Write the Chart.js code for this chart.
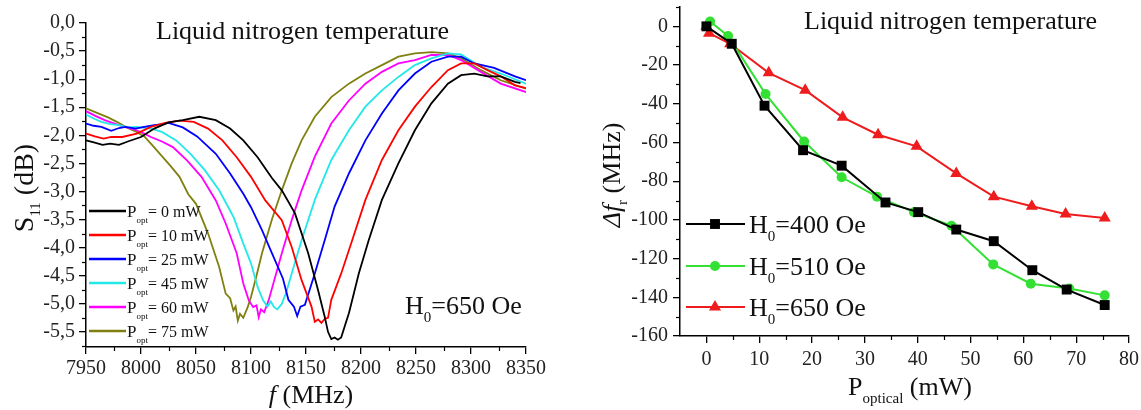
<!DOCTYPE html>
<html>
<head>
<meta charset="utf-8">
<script src="https://cdn.jsdelivr.net/npm/chart.js@4.4.0/dist/chart.umd.min.js"></script>
<style>
  html, body { margin: 0; padding: 0; background: #fff; }
  #wrap { position: relative; width: 1141px; height: 410px; }
  .box { position: absolute; top: 0; height: 410px; }
  #b1 { left: 0; width: 560px; }
  #b2 { left: 580px; width: 561px; }
</style>
</head>
<body>
<div id="wrap">
  <div class="box" id="b1"><canvas id="c1"></canvas></div>
  <div class="box" id="b2"><canvas id="c2"></canvas></div>
</div>
<script>
// ---- left panel : S11 vs frequency, one curve per optical power ----
const freqTicks = [7950, 8000, 8050, 8100, 8150, 8200, 8250, 8300, 8350];
const s11Ticks = [-5.5, -5, -4.5, -4, -3.5, -3, -2.5, -2, -1.5, -1, -0.5, 0];
const powerLabels = ['0', '10', '25', '45', '60', '75'];

const f0 = [7950,7958,7965,7972,7980,7988,8000,8012,8025,8038,8053,8068,8081,8093,8106,8119,8128,8140,8152,8161,8167,8170,8173,8176,8179,8182,8186,8189,8198,8207,8219,8234,8249,8264,8279,8291,8303,8315,8327,8340,8345];
const s0 = [-2.09,-2.13,-2.17,-2.15,-2.17,-2.11,-2.03,-1.88,-1.77,-1.73,-1.67,-1.73,-1.88,-2.09,-2.39,-2.76,-2.98,-3.39,-4.10,-4.76,-5.23,-5.50,-5.63,-5.60,-5.64,-5.60,-5.35,-5.17,-4.46,-3.87,-3.15,-2.50,-1.91,-1.43,-1.08,-0.93,-0.90,-0.95,-0.95,-1.05,-1.07];

const f10 = [7950,7958,7966,7973,7983,7996,8009,8022,8035,8048,8061,8074,8087,8100,8113,8128,8137,8146,8155,8158,8161,8164,8167,8170,8173,8182,8192,8204,8219,8234,8249,8264,8279,8291,8303,8315,8327,8340,8350];
const s10 = [-1.97,-2.02,-2.06,-2.03,-2.03,-1.97,-1.85,-1.78,-1.74,-1.76,-1.88,-2.09,-2.39,-2.74,-3.16,-3.51,-3.99,-4.58,-5.05,-5.32,-5.28,-5.34,-5.27,-5.25,-4.93,-4.46,-3.87,-3.15,-2.44,-1.91,-1.49,-1.14,-0.84,-0.72,-0.72,-0.84,-0.95,-1.11,-1.16];

const f25 = [7950,7957,7964,7973,7980,7986,7995,8003,8012,8020,8025,8038,8051,8068,8081,8093,8100,8110,8119,8129,8134,8139,8142,8145,8149,8158,8167,8176,8189,8204,8219,8234,8249,8264,8279,8291,8303,8321,8340,8350];
const s25 = [-1.79,-1.83,-1.85,-1.92,-1.87,-1.85,-1.88,-1.85,-1.82,-1.80,-1.78,-1.86,-2.02,-2.33,-2.68,-3.04,-3.28,-3.69,-4.10,-4.55,-4.93,-5.05,-5.22,-5.05,-5.02,-4.46,-3.87,-3.27,-2.68,-2.09,-1.61,-1.20,-0.90,-0.69,-0.60,-0.60,-0.72,-0.80,-0.95,-1.02];

const f45 = [7950,7957,7964,7972,7980,7988,7996,8009,8019,8032,8045,8058,8071,8084,8093,8100,8106,8111,8115,8118,8121,8124,8128,8132,8137,8146,8158,8173,8189,8204,8219,8234,8249,8264,8279,8291,8309,8327,8350];
const s45 = [-1.63,-1.70,-1.76,-1.80,-1.82,-1.86,-1.85,-1.88,-1.94,-2.09,-2.33,-2.62,-2.98,-3.45,-3.93,-4.28,-4.70,-4.94,-5.05,-4.96,-5.06,-5.10,-5.00,-4.80,-4.46,-3.87,-3.15,-2.44,-1.91,-1.49,-1.20,-0.96,-0.75,-0.63,-0.54,-0.56,-0.78,-0.90,-1.08];

const f60 = [7950,7958,7967,7974,7980,7988,7996,8003,8009,8019,8029,8042,8055,8068,8077,8087,8093,8098,8102,8105,8107,8109,8112,8116,8128,8137,8146,8158,8173,8189,8204,8219,8234,8249,8264,8279,8291,8309,8327,8350];
const s60 = [-1.57,-1.65,-1.73,-1.78,-1.82,-1.87,-1.91,-1.97,-2.03,-2.11,-2.21,-2.45,-2.74,-3.16,-3.57,-4.10,-4.64,-4.94,-5.06,-5.03,-5.24,-5.10,-5.15,-4.94,-4.10,-3.51,-2.98,-2.38,-1.79,-1.38,-1.08,-0.87,-0.72,-0.66,-0.57,-0.57,-0.66,-0.87,-1.08,-1.23];

const f75 = [7950,7960,7970,7978,7986,7995,8003,8010,8019,8027,8035,8043,8050,8061,8071,8077,8081,8084,8086,8088,8090,8093,8097,8100,8105,8110,8119,8128,8137,8146,8158,8173,8189,8204,8219,8234,8249,8264,8279,8291,8309,8327,8350];
const s75 = [-1.52,-1.60,-1.68,-1.76,-1.85,-1.93,-2.02,-2.17,-2.37,-2.55,-2.74,-3.05,-3.22,-3.75,-4.34,-4.82,-4.90,-5.12,-5.05,-5.30,-5.18,-5.25,-5.06,-4.88,-4.50,-4.10,-3.50,-2.98,-2.50,-2.09,-1.67,-1.32,-1.08,-0.90,-0.75,-0.60,-0.54,-0.52,-0.54,-0.63,-0.84,-1.02,-1.17];

const curveColors = ['#000000', '#ff0000', '#0000ff', '#22e8e8', '#ff00ff', '#808010'];

// ---- right panel : resonance shift vs optical power ----
const powerTicks = [0, 10, 20, 30, 40, 50, 60, 70, 80];
const shiftTicks = [-160, -140, -120, -100, -80, -60, -40, -20, 0];
const fieldLabels = ['400', '510', '650'];

const p400 = [0, 4.8, 11, 18.3, 25.6, 33.9, 40.1, 47.3, 54.4, 61.7, 68.2, 75.4];
const d400 = [0, -9, -41, -64, -72, -91, -96, -105, -111, -126, -136, -144];
const p510 = [0.7, 4.1, 11.2, 18.5, 25.6, 32.3, 39.3, 46.4, 54.3, 61.4, 68.7, 75.4];
const d510 = [2.5, -5, -35, -59.5, -78, -88, -96, -103, -123, -133, -135.5, -139];
const p650 = [0, 0.5, 4.5, 11.8, 18.7, 25.8, 32.5, 39.8, 47.3, 54.4, 61.6, 68, 75.4];
const d650 = [0, -3.5, -9, -24, -33, -47, -56, -62, -76, -88, -93, -97, -99];

const FONT = '"Liberation Serif", "Times New Roman", serif';

function pts(xs, ys) {
  return xs.map((x, i) => ({ x: x, y: ys[i] }));
}

// draws a run of text pieces: [text, size, dy, style]
function rich(ctx, x, y, parts, align) {
  let w = 0;
  parts.forEach(p => {
    ctx.font = (p[3] || '') + ' ' + p[1] + 'px ' + FONT;
    w += ctx.measureText(p[0]).width;
  });
  let cx = align === 'center' ? x - w / 2 : x;
  ctx.textBaseline = 'alphabetic';
  ctx.textAlign = 'left';
  parts.forEach(p => {
    ctx.font = (p[3] || '') + ' ' + p[1] + 'px ' + FONT;
    ctx.fillText(p[0], cx, y + (p[2] || 0));
    cx += ctx.measureText(p[0]).width;
  });
}

function range(a, b, step) {
  const out = [];
  for (let v = a; v <= b + 1e-9; v += step) out.push(Math.round(v * 1000) / 1000);
  return out;
}

const minorTicks = {
  id: 'minorTicks',
  afterDraw(chart, args, opts) {
    const ctx = chart.ctx;
    const xs = chart.scales.x, ys = chart.scales.y;
    ctx.save();
    ctx.strokeStyle = '#000';
    ctx.lineWidth = 1.2;
    opts.x.forEach(v => {
      const px = Math.round(xs.getPixelForValue(v)) + 0.5;
      ctx.beginPath(); ctx.moveTo(px, xs.top); ctx.lineTo(px, xs.top + 4); ctx.stroke();
    });
    opts.y.forEach(v => {
      const py = Math.round(ys.getPixelForValue(v)) + 0.5;
      ctx.beginPath(); ctx.moveTo(ys.right, py); ctx.lineTo(ys.right - 4, py); ctx.stroke();
    });
    ctx.restore();
  }
};

// fixed axis box sizes, label overflow is handled by the layout padding
function axis(min, max, ticks, size, pad, cb) {
  return {
    type: 'linear', min: min, max: max,
    afterBuildTicks: s => { s.ticks = ticks.map(v => ({ value: v })); },
    afterFit: s => {
      if (s.isHorizontal()) s.height = size; else s.width = size;
      s.paddingTop = 0; s.paddingBottom = 0; s.paddingLeft = 0; s.paddingRight = 0;
    },
    grid: { drawOnChartArea: false, drawTicks: true, tickLength: 7, color: '#000', lineWidth: 1.3 },
    border: { display: true, color: '#000', width: 1.5 },
    ticks: { color: '#222', padding: pad, maxRotation: 0, autoSkip: false,
             font: { family: FONT, size: 20 }, callback: cb }
  };
}

Chart.defaults.font.family = FONT;

// ---------------- LEFT CHART ----------------
const leftText = {
  id: 'leftText',
  afterDraw(chart) {
    const ctx = chart.ctx;
    ctx.save();
    ctx.fillStyle = '#111';
    rich(ctx, 156, 39, [['Liquid nitrogen temperature', 26]]);
    rich(ctx, 405, 314, [['H', 26], ['0', 15, 8], ['=650 Oe', 26]]);
    // legend
    const rows = [211, 235, 259, 283, 307, 331];
    rows.forEach((ry, i) => {
      ctx.strokeStyle = curveColors[i];
      ctx.lineWidth = 2.5;
      ctx.beginPath(); ctx.moveTo(89, ry); ctx.lineTo(126, ry); ctx.stroke();
      ctx.fillStyle = '#111';
      rich(ctx, 127, ry + 6, [['P', 17], ['opt', 9, 6], ['= ' + powerLabels[i] + ' mW', 16]]);
    });
    // axis titles
    rich(ctx, 311, 403, [['f', 26, 0, 'italic'], [' (MHz)', 26]], 'center');
    ctx.translate(33, 188);
    ctx.rotate(-Math.PI / 2);
    rich(ctx, 0, 0, [['S', 28], ['11', 15, 7], [' (dB)', 28]], 'center');
    ctx.restore();
  }
};

new Chart(document.getElementById('c1'), {
  type: 'scatter',
  data: {
    datasets: [[f0, s0], [f10, s10], [f25, s25], [f45, s45], [f60, s60], [f75, s75]].map((c, i) => ({
      label: 'Popt = ' + powerLabels[i] + ' mW',
      data: pts(c[0], c[1]),
      showLine: true,
      borderColor: curveColors[i],
      borderWidth: 1.8,
      pointRadius: 0,
      tension: 0
    }))
  },
  options: {
    responsive: true, maintainAspectRatio: false, animation: false,
    layout: { padding: { left: 0, right: 34, top: 23, bottom: 0 } },
    plugins: {
      legend: { display: false }, tooltip: { enabled: false },
      minorTicks: { x: range(7975, 8325, 50), y: range(-5.75, -0.25, 0.5) }
    },
    scales: {
      x: axis(7950, 8350, freqTicks, 63, 3, v => String(v)),
      y: axis(-5.77, 0, s11Ticks, 86, 4, v => v.toFixed(1).replace('.', ','))
    }
  },
  plugins: [minorTicks, leftText]
});

// ---------------- RIGHT CHART ----------------
const fieldColors = ['#000000', '#33e033', '#ee1c1c'];
const fieldStyles = ['rect', 'circle', 'triangle'];
const fieldRadius = [7, 5, 7];

const rightText = {
  id: 'rightText',
  afterDraw(chart) {
    const ctx = chart.ctx;
    ctx.save();
    ctx.fillStyle = '#111';
    rich(ctx, 224, 29, [['Liquid nitrogen temperature', 26]]);
    const rows = [224, 266, 307];
    rows.forEach((ry, i) => {
      ctx.strokeStyle = fieldColors[i];
      ctx.lineWidth = 2;
      ctx.beginPath(); ctx.moveTo(106, ry); ctx.lineTo(165, ry); ctx.stroke();
      ctx.fillStyle = fieldColors[i];
      Chart.helpers.drawPoint(ctx, { pointStyle: fieldStyles[i], radius: fieldRadius[i], borderWidth: 0 }, 135, ry);
      ctx.fillStyle = '#111';
      rich(ctx, 169, ry + 9, [['H', 26], ['0', 15, 8], ['=' + fieldLabels[i] + ' Oe', 26]]);
    });
    rich(ctx, 330, 395, [['P', 26], ['optical', 15, 8], [' (mW)', 26]], 'center');
    ctx.translate(40, 175);
    ctx.rotate(-Math.PI / 2);
    rich(ctx, 0, 0, [['\u0394f', 26, 0, 'italic'], ['r', 15, 7], [' (MHz)', 26]], 'center');
    ctx.restore();
  }
};

new Chart(document.getElementById('c2'), {
  type: 'scatter',
  data: {
    datasets: [[p400, d400], [p510, d510], [p650, d650]].map((c, i) => ({
      label: 'H0=' + fieldLabels[i] + ' Oe',
      data: pts(c[0], c[1]),
      showLine: true,
      borderColor: fieldColors[i],
      backgroundColor: fieldColors[i],
      borderWidth: 2,
      pointStyle: fieldStyles[i],
      pointRadius: fieldRadius[i],
      pointBorderWidth: 0,
      tension: 0
    }))
  },
  options: {
    responsive: true, maintainAspectRatio: false, animation: false,
    layout: { padding: { left: 0, right: 12, top: 3, bottom: 0 } },
    plugins: {
      legend: { display: false }, tooltip: { enabled: false },
      minorTicks: { x: range(5, 75, 10), y: range(-150, 10, 20) }
    },
    scales: {
      x: axis(-5, 80, powerTicks, 74, 5, v => String(v)),
      y: axis(-160, 10, shiftTicks, 100, 5, v => String(v))
    }
  },
  plugins: [minorTicks, rightText]
});
</script>
</body>
</html>
